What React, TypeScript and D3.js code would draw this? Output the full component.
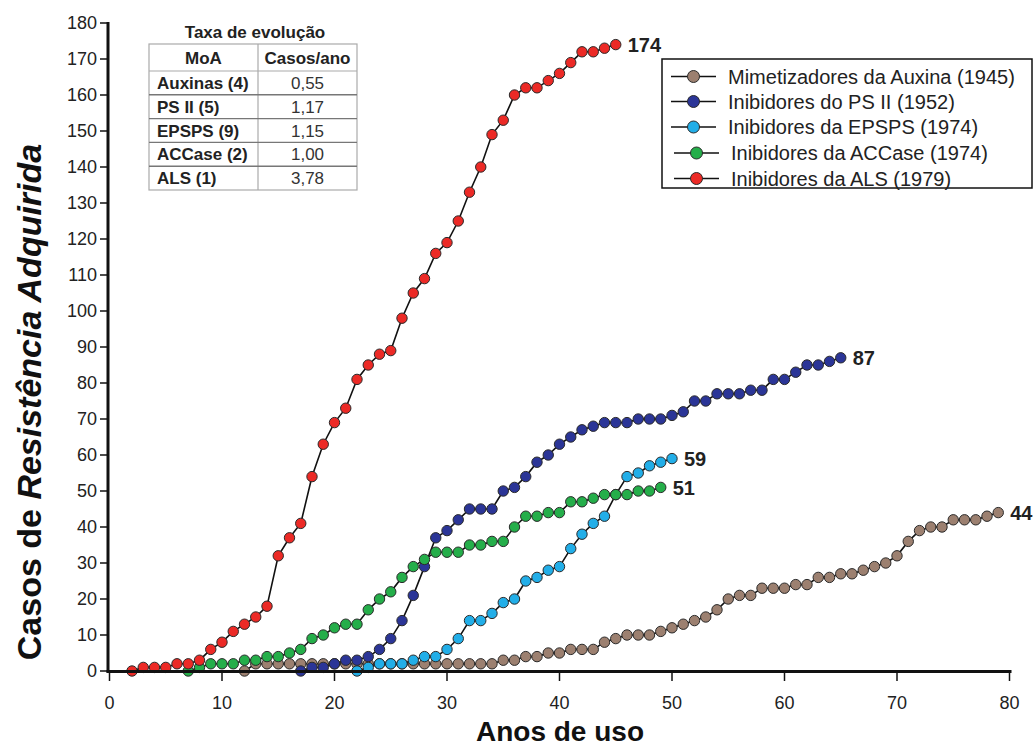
import React from 'react';
import * as d3 from 'd3';

// ---------- data ----------
const seriesNames = [
  'Mimetizadores da Auxina (1945)',
  'Inibidores do PS II (1952)',
  'Inibidores da EPSPS (1974)',
  'Inibidores da ACCase (1974)',
  'Inibidores da ALS (1979)',
];
const seriesColors = ['#9c8070', '#2b3597', '#22aee8', '#25ae4a', '#ec2a26'];
const seriesStartYear = [12, 17, 22, 7, 2];

const auxinaValues = [
  0, 2, 2, 2, 2, 2, 2, 2, 2, 2, 2, 2, 2, 2, 2, 2, 2, 2, 2, 2, 2, 2, 2,
  3, 3, 4, 4, 5, 5, 6, 6, 6, 8, 9, 10, 10, 10, 11, 12, 13, 14, 15, 17, 20,
  21, 21, 23, 23, 23, 24, 24, 26, 26, 27, 27, 28, 29, 30, 32, 36, 39, 40, 40,
  42, 42, 42, 43, 44,
];
const psiiValues = [
  0, 1, 1, 2, 3, 3, 4, 6, 9, 14, 21, 29, 37, 39, 42, 45, 45, 45, 50, 51, 54,
  58, 60, 63, 65, 67, 68, 69, 69, 69, 70, 70, 70, 71, 72, 75, 75, 77, 77, 77,
  78, 78, 81, 81, 83, 85, 85, 86, 87,
];
const epspsValues = [
  0, 1, 2, 2, 2, 3, 4, 4, 6, 9, 14, 14, 16, 19, 20, 25, 26, 28, 29, 34, 38,
  41, 43, 49, 54, 55, 57, 58, 59,
];
const accaseValues = [
  0, 1, 2, 2, 2, 3, 3, 4, 4, 5, 6, 9, 10, 12, 13, 13, 17, 20, 22, 26, 29, 31,
  33, 33, 33, 35, 35, 36, 36, 40, 43, 43, 44, 44, 47, 47, 48, 49, 49, 49, 50,
  50, 51,
];
const alsValues = [
  0, 1, 1, 1, 2, 2, 3, 6, 8, 11, 13, 15, 18, 32, 37, 41, 54, 63, 69, 73, 81,
  85, 88, 89, 98, 105, 109, 116, 119, 125, 133, 140, 149, 153, 160, 162, 162,
  164, 166, 169, 172, 172, 173, 174,
];
const seriesValues = [auxinaValues, psiiValues, epspsValues, accaseValues, alsValues];

const xTicks = [0, 10, 20, 30, 40, 50, 60, 70, 80];
const yTicks = [0, 10, 20, 30, 40, 50, 60, 70, 80, 90, 100, 110, 120, 130, 140, 150, 160, 170, 180];

const tableTitle = 'Taxa de evolução';
const tableHeader = ['MoA', 'Casos/ano'];
const tableMoA = ['Auxinas (4)', 'PS II (5)', 'EPSPS (9)', 'ACCase (2)', 'ALS (1)'];
const tableRate = ['0,55', '1,17', '1,15', '1,00', '3,78'];

const FONT = '"Liberation Sans", Arial, Helvetica, sans-serif';

export default function App() {
  const W = 1035;
  const H = 747;
  const x = d3.scaleLinear().domain([0, 80]).range([109.5, 1009.5]);
  const y = d3.scaleLinear().domain([0, 180]).range([671, 23]);

  const series = seriesValues.map((vals, i) => ({
    name: seriesNames[i],
    color: seriesColors[i],
    points: vals.map((v, j) => ({ year: seriesStartYear[i] + j, v })),
  }));

  const line = d3
    .line<{ year: number; v: number }>()
    .x((d) => x(d.year))
    .y((d) => y(d.v));

  // table geometry
  const tX0 = 149, tX1 = 357, tDiv = 258;
  const tY0 = 44, tHead = 71;
  const rowH = (190 - tHead) / tableMoA.length;

  // legend geometry
  const lgX = 662, lgY = 59, lgW = 370, lgH = 129;
  const lgRowY = [76.5, 101.5, 127, 153, 178.5];

  return (
    <svg
      width={W}
      height={H}
      style={{ position: 'absolute', left: 0, top: 0, background: '#fff' }}
      fontFamily={FONT}
    >
      <rect x={0} y={0} width={W} height={H} fill="#fff" />

      {/* series */}
      {series.map((s, i) => (
        <g key={i}>
          <path d={line(s.points) || ''} fill="none" stroke="#111" strokeWidth={1.6} />
          {s.points.map((p, j) => (
            <circle
              key={j}
              cx={x(p.year)}
              cy={y(p.v)}
              r={5.2}
              fill={s.color}
              stroke="#2a2a2a"
              strokeWidth={1}
            />
          ))}
        </g>
      ))}

      {/* end labels */}
      {series.map((s, i) => {
        const last = s.points[s.points.length - 1];
        return (
          <text
            key={i}
            x={x(last.year) + 12}
            y={y(last.v)}
            dy="0.36em"
            fontSize={20}
            fontWeight="bold"
            fill="#222"
          >
            {last.v}
          </text>
        );
      })}

      {/* axes */}
      <line x1={108} x2={108} y1={22} y2={672.5} stroke="#111" strokeWidth={3} />
      <line x1={106.5} x2={1011.5} y1={671.5} y2={671.5} stroke="#111" strokeWidth={3} />
      {yTicks.map((t) => (
        <g key={t}>
          <line x1={100} x2={108} y1={y(t)} y2={y(t)} stroke="#111" strokeWidth={1.5} />
          <text x={97} y={y(t)} dy="0.36em" textAnchor="end" fontSize={18} fill="#222">
            {t}
          </text>
        </g>
      ))}
      {xTicks.map((t) => (
        <g key={t}>
          <line x1={x(t)} x2={x(t)} y1={671} y2={681} stroke="#111" strokeWidth={1.5} />
          <text x={x(t)} y={703} dy="0.36em" textAnchor="middle" fontSize={18} fill="#222">
            {t}
          </text>
        </g>
      ))}
      <text x={560} y={731} dy="0.36em" textAnchor="middle" fontSize={28} fontWeight="bold" fill="#111">
        Anos de uso
      </text>
      <text
        transform={`translate(29,402) rotate(-90)`}
        textAnchor="middle"
        dy="0.36em"
        fontSize={34}
        fontWeight="bold"
        fill="#111"
      >
        Casos de <tspan fontStyle="italic">Resistência Adquirida</tspan>
      </text>

      {/* table */}
      <text x={255} y={32} dy="0.36em" textAnchor="middle" fontSize={17} fontWeight="bold" fill="#222">
        {tableTitle}
      </text>
      <rect x={tX0} y={tY0} width={tX1 - tX0} height={190 - tY0} fill="#fff" stroke="#aaa" strokeWidth={1.2} />
      <line x1={tDiv} x2={tDiv} y1={tY0} y2={190} stroke="#aaa" strokeWidth={1.2} />
      <line x1={tX0} x2={tX1} y1={tHead} y2={tHead} stroke="#aaa" strokeWidth={1.2} />
      {tableMoA.map((_, i) =>
        i > 0 ? (
          <line
            key={i}
            x1={tX0}
            x2={tX1}
            y1={tHead + i * rowH}
            y2={tHead + i * rowH}
            stroke="#777"
            strokeWidth={1.4}
          />
        ) : null
      )}
      <text x={(tX0 + tDiv) / 2} y={(tY0 + tHead) / 2} dy="0.36em" textAnchor="middle" fontSize={17} fontWeight="bold" fill="#222">
        {tableHeader[0]}
      </text>
      <text x={(tDiv + tX1) / 2} y={(tY0 + tHead) / 2} dy="0.36em" textAnchor="middle" fontSize={17} fontWeight="bold" fill="#222">
        {tableHeader[1]}
      </text>
      {tableMoA.map((m, i) => (
        <g key={m}>
          <text x={tX0 + 8} y={tHead + (i + 0.5) * rowH} dy="0.36em" fontSize={17} fontWeight="bold" fill="#222">
            {m}
          </text>
          <text x={(tDiv + tX1) / 2} y={tHead + (i + 0.5) * rowH} dy="0.36em" textAnchor="middle" fontSize={17} fill="#333">
            {tableRate[i]}
          </text>
        </g>
      ))}

      {/* legend */}
      <rect x={lgX} y={lgY} width={lgW} height={lgH} fill="#fff" stroke="#111" strokeWidth={1.5} />
      {series.map((s, i) => {
        const off = i >= 3 ? 3 : 0;
        const cy = lgRowY[i];
        return (
          <g key={i}>
            <line x1={671 + off} x2={716 + off} y1={cy} y2={cy} stroke="#111" strokeWidth={1.6} />
            <circle cx={693.5 + off} cy={cy} r={6} fill={s.color} stroke="#2a2a2a" strokeWidth={1} />
            <text x={728 + off} y={cy} dy="0.36em" fontSize={20} fill="#222">
              {s.name}
            </text>
          </g>
        );
      })}
    </svg>
  );
}
